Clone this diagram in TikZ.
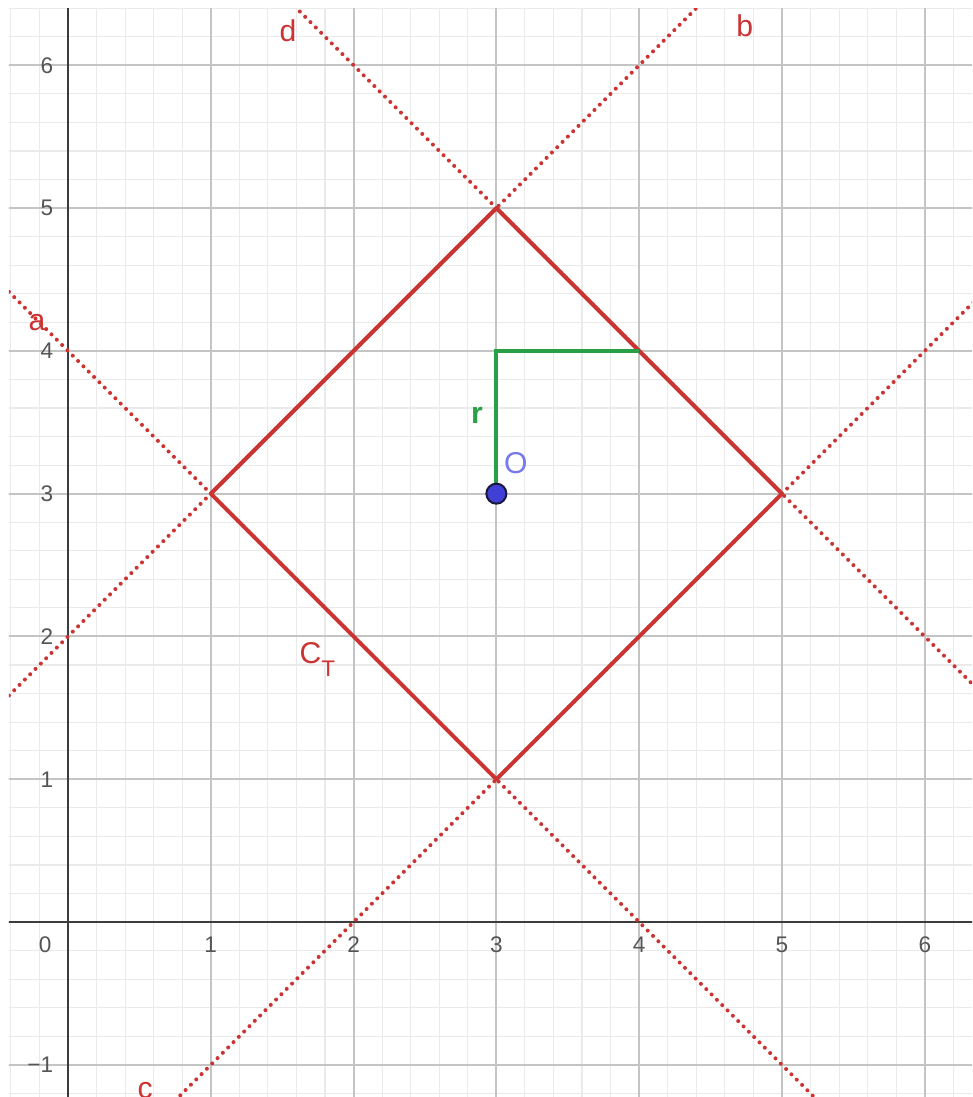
\documentclass[tikz,border=0pt]{standalone}
\usepackage{fontspec}
\setmainfont{Liberation Sans}
\begin{document}
\begin{tikzpicture}[x=2cm,y=2cm,
  minorgrid/.style={draw={rgb,255:red,234;green,234;blue,234},line width=0.45pt},
  majorgrid/.style={draw={rgb,255:red,196;green,196;blue,196},line width=0.8pt},
  axisline/.style={draw={rgb,255:red,60;green,60;blue,60},line width=1pt},
  dotline/.style={draw=gred,line width=1.6pt,line cap=round,dash pattern=on 0pt off 3pt},
  solidred/.style={draw=gred,line width=1.6pt,line join=round},
  greenseg/.style={draw=ggreen,line width=1.6pt},
  numlab/.style={text={rgb,255:red,85;green,85;blue,85},font=\fontsize{9}{10}\selectfont,inner sep=0pt},
  redlab/.style={text=gred,font=\fontsize{12}{13}\selectfont,inner sep=0pt}]
\definecolor{gred}{RGB}{204,51,51}
\definecolor{ggreen}{RGB}{40,160,70}
\definecolor{gblue}{RGB}{64,64,215}
\definecolor{gbluelab}{RGB}{120,120,240}
\useasboundingbox (-0.476,-1.225) rectangle (6.331,6.457);
\fill[white] (-0.476,-1.225) rectangle (6.331,6.457);
\begin{scope}
  \clip (-0.413,-1.225) rectangle (6.331,6.40);
  \draw[minorgrid] (-1,-2) grid[step=0.2] (7,7);
  \draw[majorgrid] (-1,-2) grid[step=1] (7,7);
  \draw[axisline] (-1,0) -- (7,0);
  \draw[axisline] (0,-2) -- (0,7);
  % dotted lines a, b, c, d
  \draw[dotline] (-0.6,4.6) -- (5.6,-1.6);
  \draw[dotline] (-0.6,1.4) -- (4.6,6.6);
  \draw[dotline] (0.6,-1.4) -- (6.6,4.6);
  \draw[dotline] (1.4,6.6) -- (6.6,1.4);
  % diamond C_T
  \coordinate (top) at (3,5);
  \coordinate (rgt) at (5,3);
  \coordinate (bot) at (3,1);
  \coordinate (lft) at (1,3);
  \draw[solidred] (top) -- (rgt) -- (bot) -- (lft) -- cycle;
  % radius r
  \coordinate (O) at (3,3);
  \coordinate (ra) at (3,4);
  \coordinate (rb) at (4,4);
  \draw[greenseg] (O) -- (ra) -- (rb);
  \node[circle,fill=gblue,draw={rgb,255:red,25;green,25;blue,60},line width=0.8pt,minimum size=0.28cm,inner sep=0pt] (Opt) at (O) {};
\end{scope}
% axis numbers
\node[numlab] (x0) at (-0.16,-0.161) {0};
\foreach \i in {1,...,6} {\node[numlab] (x\i) at (\i,-0.161) {\i};}
\foreach \i in {1,...,6} {\node[numlab,anchor=east] (y\i) at (-0.1,\i) {\i};}
\node[numlab,anchor=east] (ym1) at (-0.1,-1) {\textminus1};
% labels
\node[redlab] (la) at (-0.217,4.2) {a};
\node[redlab] (lb) at (4.74,6.28) {b};
\node[redlab] (lc) at (0.54,-1.18) {c};
\node[redlab] (ld) at (1.54,6.24) {d};
\node[redlab,anchor=base west] (lct) at (1.618,1.814) {C\raisebox{-5.5pt}{\fontsize{9}{9}\selectfont T}};
\node[text=ggreen,font=\fontsize{12}{13}\selectfont\bfseries,inner sep=0pt] (lr) at (2.864,3.55) {r};
\node[text=gbluelab,font=\fontsize{12}{13}\selectfont,inner sep=0pt] (lO) at (3.137,3.211) {O};
\end{tikzpicture}
\end{document}
